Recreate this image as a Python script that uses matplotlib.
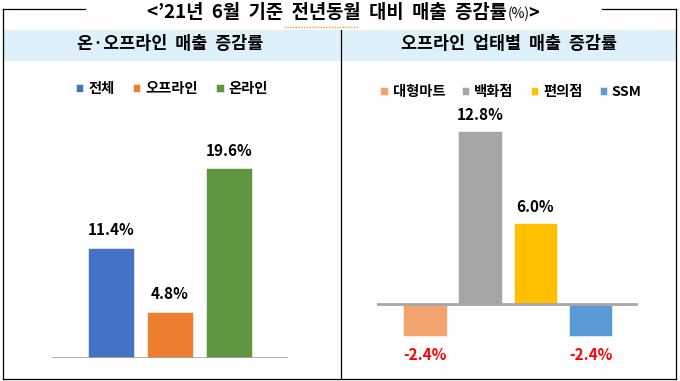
import matplotlib
matplotlib.use("Agg")
import matplotlib.pyplot as plt
from matplotlib.patches import Rectangle

plt.rcParams['font.family'] = ['Noto Sans CJK KR', 'DejaVu Sans']

# ---- data ----
title_main = "<’21년  6월  기준  전년동월  대비  매출  증감률"
title_unit = "(%)"
title_end = ">"
left_header = "온·오프라인  매출  증감률"
right_header = "오프라인  업태별  매출  증감률"

left_cats = ["전체", "오프라인", "온라인"]
left_vals = [11.4, 4.8, 19.6]
left_colors = ["#4472C4", "#ED7D31", "#5F9640"]

right_cats = ["대형마트", "백화점", "편의점", "SSM"]
right_vals = [-2.4, 12.8, 6.0, -2.4]
right_colors = ["#F4A46E", "#A5A5A5", "#FFC000", "#5B9BD5"]

W, H = 680, 381
fig = plt.figure(figsize=(W / 100, H / 100), dpi=100)

def fx(x):
    return x / W

def fy(y):
    return 1 - y / H

# overlay axes in pixel coordinates
ov = fig.add_axes([0, 0, 1, 1])
ov.set_xlim(0, W)
ov.set_ylim(H, 0)
ov.axis('off')

# header band
ov.add_patch(Rectangle((3, 30), 673, 31, facecolor="#DEF1FA", edgecolor="none", zorder=1))
# frame
lc = "#000000"
ov.plot([3, 3], [9, 379], color=lc, lw=0.9, zorder=3)
ov.plot([676, 676], [9, 379], color=lc, lw=0.9, zorder=3)
ov.plot([3, 676], [379, 379], color=lc, lw=0.9, zorder=3)
ov.plot([3, 85], [9, 9], color=lc, lw=0.9, zorder=3)
ov.plot([602, 676], [9, 9], color=lc, lw=0.9, zorder=3)
ov.plot([340.5, 340.5], [30, 379], color=lc, lw=0.9, zorder=3)

# title
t1 = ov.text(507, 12.5, title_main, ha='right', va='center', fontsize=13.5,
             fontweight='bold', color='#000000', zorder=4)
t2 = ov.annotate(title_unit, xy=(1, 0.5), xycoords=t1, xytext=(0.3, -1), textcoords='offset points',
                 ha='left', va='center', fontsize=10, color='#000000', zorder=4)
ov.annotate(title_end, xy=(1, 0.5), xycoords=t2, xytext=(-0.5, 0.5), textcoords='offset points',
            ha='left', va='center', fontsize=13, fontweight='bold', color='#000000', zorder=4)
# spellcheck squiggle
ov.plot([284, 359], [27, 27], color="#F0A030", lw=1.0, ls=(0, (1, 1)), zorder=4)

# headers
ov.text(170, 44, left_header, ha='center', va='center', fontsize=12.5,
        fontweight='bold', color='#000000', zorder=4)
ov.text(509, 44, right_header, ha='center', va='center', fontsize=12.5,
        fontweight='bold', color='#000000', zorder=4)

# ---- left chart ----
axL = fig.add_axes([fx(52), fy(358), fx(288) - fx(52), fy(100) - fy(358)])
axL.set_xlim(-1.0, 3.0)
axL.set_ylim(0, 258 / 9.68)
barsL = axL.bar(range(len(left_vals)), left_vals, width=0.78, color=left_colors,
                edgecolor='white', linewidth=0.4, zorder=2)
axL.axhline(0, color="#A6A6A6", lw=2.0, zorder=3)
axL.axis('off')
for i, v in enumerate(left_vals):
    axL.annotate(f"{v:.1f}%", (i, v), xytext=(0, 12.5), textcoords='offset points',
                 ha='center', va='center', fontsize=11, fontweight='bold', color='#000000')

legL = fig.legend(barsL, left_cats, loc='center', bbox_to_anchor=(fx(172), fy(89)),
                  ncol=3, frameon=False, handlelength=0.5, handleheight=0.5,
                  handletextpad=0.35, columnspacing=1.3,
                  prop={'size': 10.3, 'weight': 'bold'})

# ---- right chart ----
axR = fig.add_axes([fx(377), fy(375), fx(638) - fx(377), fy(100) - fy(375)])
axR.set_xlim(-0.87, 3.86)
axR.set_ylim(-(375 - 304) / 13.5, (304 - 100) / 13.5)
barsR = axR.bar(range(len(right_vals)), right_vals, width=0.79, color=right_colors,
                edgecolor='white', linewidth=0.4, zorder=2)
axR.axhline(0, color="#A6A6A6", lw=2.0, zorder=3)
axR.axis('off')
for i, v in enumerate(right_vals):
    if v >= 0:
        axR.annotate(f"{v:.1f}%", (i, v), xytext=(0, 11.5), textcoords='offset points',
                     ha='center', va='center', fontsize=11, fontweight='bold', color='#000000')
    else:
        axR.annotate(f"{v:.1f}%", (i, v), xytext=(0, -13.5), textcoords='offset points',
                     ha='center', va='center', fontsize=11, fontweight='bold', color='#FF0000')

legR = fig.legend(barsR, right_cats, loc='center', bbox_to_anchor=(fx(511), fy(92)),
                  ncol=4, frameon=False, handlelength=0.5, handleheight=0.5,
                  handletextpad=0.35, columnspacing=1.2,
                  prop={'size': 10.3, 'weight': 'bold'})

fig.savefig("out.png", dpi=100)
